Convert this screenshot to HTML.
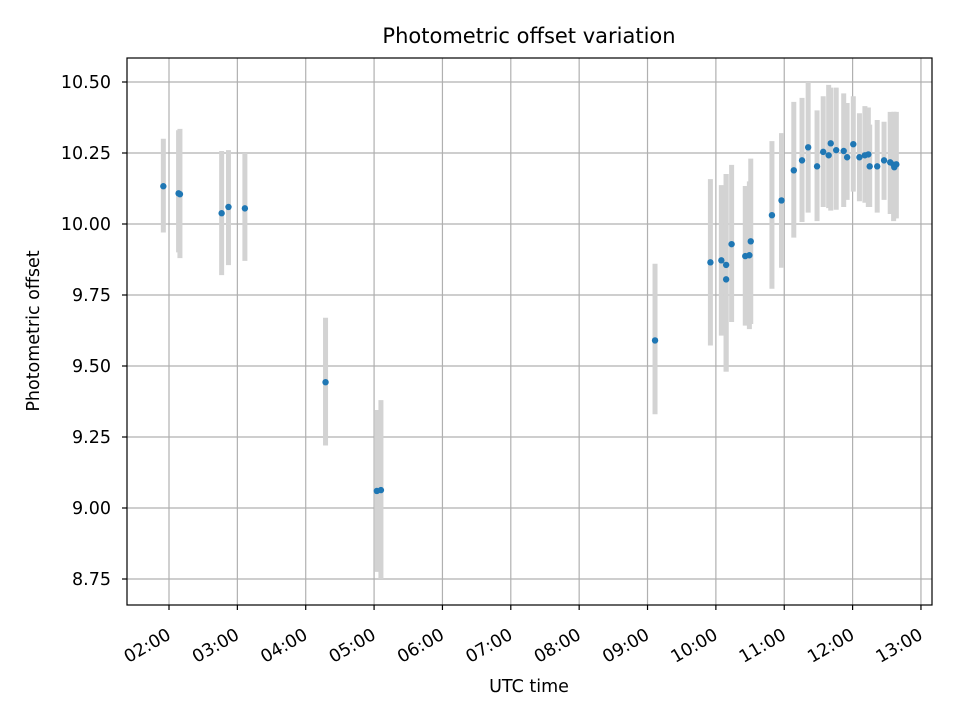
<!DOCTYPE html>
<html><head><meta charset="utf-8"><style>
body{margin:0;background:#fff}
svg{display:block;font-family:"DejaVu Sans","Liberation Sans",sans-serif}
</style></head><body>
<svg id="chart" width="960" height="720" viewBox="0 0 960 720"></svg>
<script>
const hours=[1.917,2.14,2.16,2.77,2.87,3.11,4.29,5.04,5.10,9.11,9.92,10.08,10.15,10.15,10.23,10.43,10.49,10.51,10.82,10.96,11.14,11.26,11.35,11.48,11.57,11.65,11.68,11.76,11.87,11.92,12.01,12.10,12.18,12.23,12.25,12.36,12.46,12.55,12.60,12.64,12.61];
const values=[10.133,10.108,10.105,10.038,10.06,10.055,9.443,9.06,9.063,9.59,9.865,9.872,9.856,9.805,9.929,9.887,9.89,9.939,10.031,10.083,10.189,10.224,10.27,10.203,10.254,10.242,10.284,10.26,10.257,10.235,10.281,10.235,10.242,10.245,10.203,10.203,10.224,10.217,10.209,10.21,10.20];
const errHigh=[10.30,10.33,10.335,10.257,10.26,10.25,9.67,9.345,9.38,9.86,10.158,10.137,10.176,10.176,10.208,10.134,10.15,10.23,10.292,10.32,10.43,10.444,10.50,10.40,10.45,10.49,10.48,10.48,10.46,10.426,10.45,10.39,10.415,10.41,10.35,10.366,10.36,10.395,10.395,10.395,10.395];
const errLow=[9.97,9.90,9.88,9.82,9.855,9.87,9.22,8.775,8.75,9.33,9.572,9.607,9.48,9.48,9.655,9.642,9.63,9.648,9.772,9.846,9.952,10.007,10.04,10.01,10.06,10.056,10.047,10.05,10.06,10.085,10.114,10.08,10.075,10.06,10.06,10.04,10.085,10.035,10.01,10.02,10.02];
const xTicks=[2,3,4,5,6,7,8,9,10,11,12,13];
const xTickLabels=["02:00","03:00","04:00","05:00","06:00","07:00","08:00","09:00","10:00","11:00","12:00","13:00"];
const yTicks=[8.75,9.00,9.25,9.50,9.75,10.00,10.25,10.50];
const yTickLabels=["8.75","9.00","9.25","9.50","9.75","10.00","10.25","10.50"];

const L=127,R=932,T=58,B=605;
const xs=h=>169+(h-2)*68.36;
const ys=v=>82+(10.5-v)*284;
const svg=document.getElementById('chart');
const NS='http://www.w3.org/2000/svg';
function mk(tag,attrs,parent){const e=document.createElementNS(NS,tag);for(const k in attrs)e.setAttribute(k,attrs[k]);(parent||svg).appendChild(e);return e;}

const grid=mk('g',{});


xTicks.forEach(t=>{const l=mk('line',{x1:xs(t),x2:xs(t),y1:T,y2:B,stroke:'#b0b0b0','stroke-width':1.2},grid);

});
yTicks.forEach(t=>{const l=mk('line',{x1:L,x2:R,y1:ys(t),y2:ys(t),stroke:'#b0b0b0','stroke-width':1.2},grid);

});

const eb=mk('g',{});


hours.forEach((h,i)=>{const l=mk('line',{x1:xs(h),x2:xs(h),y1:ys(errHigh[i]),y2:ys(errLow[i]),stroke:'#d3d3d3','stroke-width':5},eb);

});
const pts=mk('g',{});


hours.forEach((h,i)=>{const c=mk('circle',{cx:xs(h),cy:ys(values[i]),r:3.2,fill:'#1f77b4'},pts);

});

const frame=mk('rect',{x:L,y:T,width:R-L,height:B-T,fill:'none',stroke:'#000','stroke-width':1.2});



xTicks.forEach((t,i)=>{const x=xs(t);
const tk=mk('line',{x1:x,x2:x,y1:B,y2:B+5,stroke:'#000','stroke-width':1.2});


const ax=x+3, ay=B+33;
const tx=mk('text',{x:ax,y:ay,'font-size':17.5,'text-anchor':'end',transform:`rotate(-30 ${ax} ${ay})`});
tx.textContent=xTickLabels[i];

});
yTicks.forEach((t,i)=>{const y=ys(t);
const tk=mk('line',{x1:L-5,x2:L,y1:y,y2:y,stroke:'#000','stroke-width':1.2});


const tx=mk('text',{x:L-16,y:y+6,'font-size':17.5,'text-anchor':'end'});
tx.textContent=yTickLabels[i];

});

const title=mk('text',{x:529,y:43,'font-size':21,'text-anchor':'middle'});
title.textContent='Photometric offset variation';


const xl=mk('text',{x:529,y:692,'font-size':17.5,'text-anchor':'middle'});
xl.textContent='UTC time';


const yl=mk('text',{x:39,y:331,'font-size':17.5,'text-anchor':'middle',transform:'rotate(-90 39 331)'});
yl.textContent='Photometric offset';


</script>
</body></html>
